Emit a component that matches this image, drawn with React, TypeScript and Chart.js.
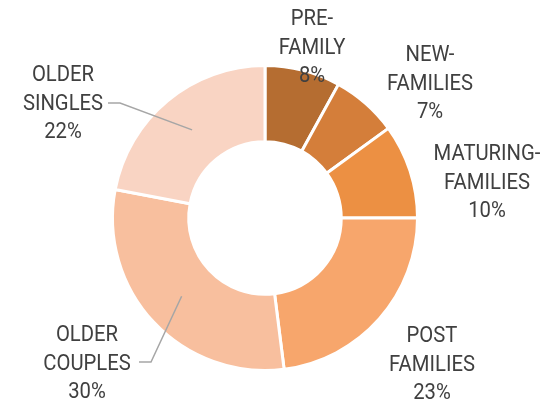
import React, { useEffect, useRef } from "react";
import { Chart, registerables } from "chart.js";

Chart.register(...registerables);

// ---- data ----
const categories: string[][] = [
  ["PRE-", "FAMILY"],
  ["NEW-", "FAMILIES"],
  ["MATURING-", "FAMILIES"],
  ["POST", "FAMILIES"],
  ["OLDER", "COUPLES"],
  ["OLDER", "SINGLES"],
];
const shares: number[] = [8, 7, 10, 23, 30, 22];
const colors: string[] = ["#B56D31", "#D47E3A", "#EC9043", "#F7A66C", "#F8BF9E", "#F9D4C3"];

// ---- label layout (offset of the middle text line from the doughnut centre) ----
const labelOffsets: number[][] = [
  [47, -170],
  [165, -134],
  [222, -35],
  [167, 147],
  [-178, 146],
  [-202, -114],
];
// leader line start & bend, relative to centre (end point = arc centre point)
const leaders: (number[][] | null)[] = [
  null,
  null,
  null,
  null,
  [[-126, 144], [-114, 144]],
  [[-157, -115], [-145, -115]],
];
const LINE_H = 28.5;
const CONDENSE = 0.9;

const labelPlugin = {
  id: "outerLabels",
  afterDatasetsDraw(chart: any) {
    const ctx = chart.ctx as CanvasRenderingContext2D;
    const meta = chart.getDatasetMeta(0);
    const first = meta.data[0] as any;
    const cx = first.x;
    const cy = first.y;
    ctx.save();
    // leader lines
    ctx.strokeStyle = "#A6A6A6";
    ctx.lineWidth = 1.5;
    meta.data.forEach((arc: any, i: number) => {
      const ld = leaders[i];
      if (!ld) return;
      const p = arc.getCenterPoint();
      ctx.beginPath();
      ctx.moveTo(cx + ld[0][0], cy + ld[0][1]);
      ctx.lineTo(cx + ld[1][0], cy + ld[1][1]);
      ctx.lineTo(p.x, p.y);
      ctx.stroke();
    });
    // texts (Roboto, horizontally condensed)
    ctx.font = "22.5px Roboto, 'Noto Sans', sans-serif";
    ctx.fillStyle = "#404040";
    ctx.textAlign = "center";
    ctx.textBaseline = "middle";
    meta.data.forEach((_arc: any, i: number) => {
      const [dx, dy] = labelOffsets[i];
      const lines = [...categories[i], shares[i] + "%"];
      lines.forEach((t, j) => {
        ctx.save();
        ctx.translate(cx + dx, cy + dy + (j - 1) * LINE_H);
        ctx.scale(CONDENSE, 1);
        ctx.fillText(t, 0, 0);
        ctx.restore();
      });
    });
    ctx.restore();
  },
};

export default function App() {
  const ref = useRef<HTMLCanvasElement | null>(null);
  useEffect(() => {
    if (!ref.current) return;
    const chart = new Chart(ref.current, {
      type: "doughnut",
      data: {
        labels: categories.map((c) => c.join(" ")),
        datasets: [
          {
            data: shares,
            backgroundColor: colors,
            borderColor: "#FFFFFF",
            borderWidth: 3,
          },
        ],
      },
      options: {
        responsive: false,
        animation: false,
        devicePixelRatio: 1,
        cutout: "50%",
        layout: { padding: { left: 111, top: 64, right: 125, bottom: 32 } },
        plugins: {
          legend: { display: false },
          tooltip: { enabled: false },
          title: { display: false },
        },
      },
      plugins: [labelPlugin],
    });
    return () => chart.destroy();
  }, []);
  return (
    <div style={{ position: "absolute", left: 0, top: 0, width: 544, height: 404, background: "#fff" }}>
      <canvas ref={ref} width={544} height={404} />
    </div>
  );
}
